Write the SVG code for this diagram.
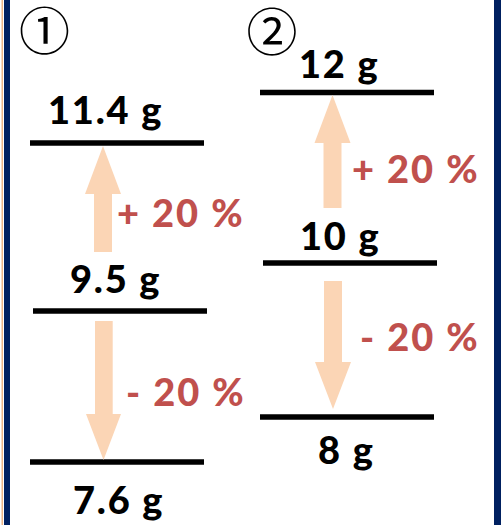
<svg xmlns="http://www.w3.org/2000/svg" width="501" height="525" viewBox="0 0 501 525">
<style>
.lvl{stroke:#000;stroke-width:5.5;}
.val{font-family:Lato,"Liberation Sans",sans-serif;font-weight:900;font-size:38px;letter-spacing:1.8px;fill:#000;}
.pct{font-family:Lato,"Liberation Sans",sans-serif;font-weight:900;font-size:38px;letter-spacing:2px;fill:#C0504D;}
.arr{fill:#FBD5B5;}
.num{font-family:"Noto Sans CJK JP","DejaVu Sans",sans-serif;font-size:51px;fill:#000;text-anchor:middle;}
</style>
<rect x="0" y="0" width="501" height="525" fill="#fff"/>
<g id="frame">
<rect x="1.6" y="0" width="1.2" height="525" fill="#E9A46A"/>
<rect x="4" y="0" width="6" height="525" fill="#002060"/>
<rect x="494" y="0" width="7" height="525" fill="#002060"/>
</g>
<g id="label-1"><text class="num" x="44.5" y="50">①</text></g>
<g id="label-2"><text class="num" x="272" y="51">②</text></g>
<g id="n-11-4">
<line class="lvl" x1="30" y1="143" x2="204" y2="143"/>
<text class="val" x="48" y="124">11.4 g</text>
</g>
<g id="n-9-5">
<line class="lvl" x1="33" y1="311" x2="207" y2="311"/>
<text class="val" x="70" y="293">9.5 g</text>
</g>
<g id="n-7-6">
<line class="lvl" x1="30" y1="462" x2="204" y2="462"/>
<text class="val" x="73" y="514">7.6 g</text>
</g>
<g id="n-12">
<line class="lvl" x1="260" y1="92.5" x2="434" y2="92.5"/>
<text class="val" x="299" y="78">12 g</text>
</g>
<g id="n-10">
<line class="lvl" x1="263" y1="263" x2="437" y2="263"/>
<text class="val" x="300" y="250">10 g</text>
</g>
<g id="n-8">
<line class="lvl" x1="260" y1="417" x2="434" y2="417"/>
<text class="val" x="318" y="464">8 g</text>
</g>
<g id="connectors">
<polygon class="arr" points="103,146 121,194 112,194 112,252 94,252 94,194 85,194"/>
<text class="pct" x="117" y="227">+ 20 %</text>
<polygon class="arr" points="95,321 112.7,321 112.7,414 121,414 103.5,460 86,414 95,414"/>
<text class="pct" x="126" y="406">- 20 %</text>
<polygon class="arr" points="332.5,95 350.5,143 341.5,143 341.5,208 323.5,208 323.5,143 314.5,143"/>
<text class="pct" x="352" y="183">+ 20 %</text>
<polygon class="arr" points="324,281 342,281 342,362 351,362 333,409 315,362 324,362"/>
<text class="pct" x="360" y="351">- 20 %</text>
</g>
</svg>
